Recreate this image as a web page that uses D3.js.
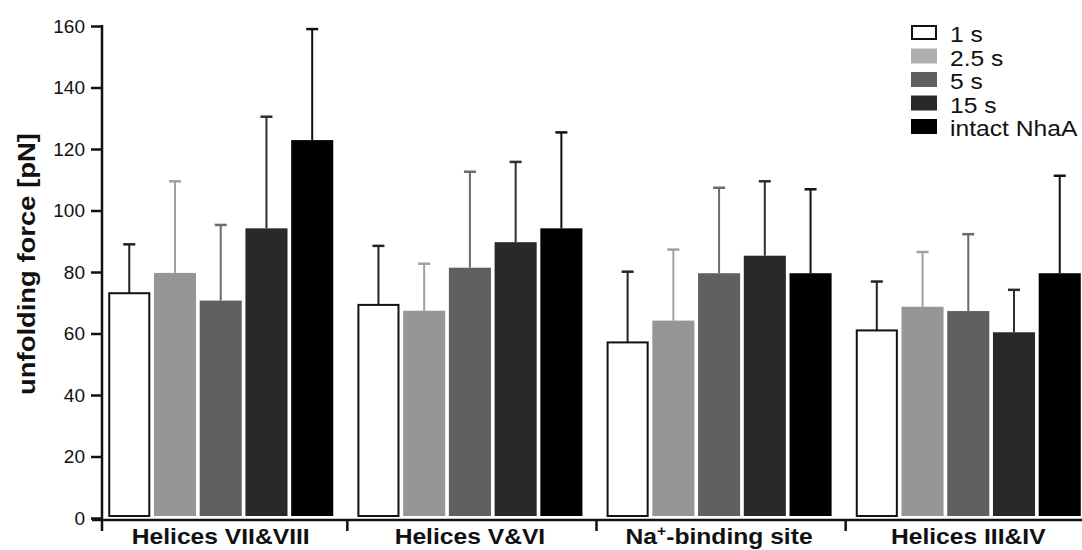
<!DOCTYPE html>
<html>
<head>
<meta charset="utf-8">
<script src="https://cdn.jsdelivr.net/npm/d3@7"></script>
<style>
  body { margin: 0; background: #fff; }
  svg { display: block; font-family: "Liberation Sans", Arial, Helvetica, sans-serif; }
</style>
</head>
<body>
<svg id="chart"></svg>
<script>
// regions along the x axis
const groups = ["Helices VII&VIII", "Helices V&VI", "Na+-binding site", "Helices III&IV"];
// pulling times
const series = ["1 s", "2.5 s", "5 s", "15 s", "intact NhaA"];
const colors = ["#ffffff", "#969696", "#606060", "#292929", "#000000"];
const errColors = ["#222222", "#a0a0a0", "#6a6a6a", "#2e2e2e", "#111111"];

// mean unfolding force per series, one entry per group
const mean1s = [73.1, 69.3, 57.1, 61.0];
const mean25s = [79.7, 67.4, 64.2, 68.7];
const mean5s = [70.7, 81.4, 79.6, 67.3];
const mean15s = [94.2, 89.7, 85.3, 60.4];
const meanIntact = [122.9, 94.2, 79.6, 79.6];

// upper end of the error bars
const err1s = [89.0, 88.5, 80.1, 76.9];
const err25s = [109.5, 82.7, 87.3, 86.5];
const err5s = [95.3, 112.6, 107.4, 92.3];
const err15s = [130.5, 115.8, 109.5, 74.2];
const errIntact = [159.0, 125.4, 106.9, 111.3];

const yTicks = [0, 20, 40, 60, 80, 100, 120, 140, 160];

const means = [mean1s, mean25s, mean5s, mean15s, meanIntact];
const errs = [err1s, err25s, err5s, err15s, errIntact];

const width = 1082;
const height = 550;

const svg = d3.select("#chart").attr("width", width).attr("height", height);

const y = d3.scaleLinear().domain([0, 160]).range([518, 26]);

const x0 = d3.scaleBand()
  .domain(groups)
  .range([102, 1087])
  .paddingInner(0.097)
  .paddingOuter(0.025);

const x1 = d3.scaleBand()
  .domain(series)
  .range([0, x0.bandwidth()])
  .paddingInner(0.08)
  .paddingOuter(0);

// flatten into rows for drawing
const rows = [];
groups.forEach((g, gi) => {
  series.forEach((s, si) => {
    rows.push({ g, s, si, value: means[si][gi], upper: errs[si][gi] });
  });
});

const cx = d => x0(d.g) + x1(d.s) + x1.bandwidth() / 2;

// error bars (behind bars)
const capW = 12;
const eb = svg.append("g").selectAll("g")
  .data(rows)
  .enter()
  .append("g")
  .attr("stroke", d => errColors[d.si]);

eb.append("line")
  .attr("x1", cx)
  .attr("x2", cx)
  .attr("y1", d => y(d.value))
  .attr("y2", d => y(d.upper))
  .attr("stroke-width", 2);

eb.append("line")
  .attr("x1", d => cx(d) - capW / 2)
  .attr("x2", d => cx(d) + capW / 2)
  .attr("y1", d => y(d.upper))
  .attr("y2", d => y(d.upper))
  .attr("stroke-width", 2.5);

// bars
svg.append("g").selectAll("rect")
  .data(rows)
  .enter()
  .append("rect")
  .attr("x", d => x0(d.g) + x1(d.s) + (d.si === 0 ? 1 : 0))
  .attr("y", d => y(d.value))
  .attr("width", d => x1.bandwidth() - (d.si === 0 ? 2 : 0))
  .attr("height", d => y(0) - 2 - y(d.value))
  .attr("fill", d => colors[d.si])
  .attr("stroke", d => d.si === 0 ? "#111" : "none")
  .attr("stroke-width", 2);

// y axis
const yAxis = svg.append("g")
  .attr("transform", "translate(102,0)")
  .call(d3.axisLeft(y).tickValues(yTicks).tickSize(11).tickSizeOuter(0).tickPadding(6));
yAxis.select(".domain").remove();
yAxis.selectAll(".tick line").attr("stroke", "#111").attr("stroke-width", 2.5);
yAxis.selectAll(".tick text")
  .attr("font-size", 19)
  .attr("fill", "#111")
  .attr("font-family", "Liberation Sans, Arial, sans-serif");
yAxis.append("line")
  .attr("x1", 0).attr("x2", 0)
  .attr("y1", y(160) - 1)
  .attr("y2", y(0) + 13)
  .attr("stroke", "#111")
  .attr("stroke-width", 2.5);

// x axis line and separators
const xAxisY = y(0) + 2;
svg.append("line")
  .attr("x1", 92).attr("x2", width)
  .attr("y1", xAxisY).attr("y2", xAxisY)
  .attr("stroke", "#111")
  .attr("stroke-width", 2.5);

const gap = x0.step() * x0.paddingInner();
svg.append("g").selectAll("line")
  .data(groups.slice(1))
  .enter()
  .append("line")
  .attr("x1", d => x0(d) - gap / 2 + 2)
  .attr("x2", d => x0(d) - gap / 2 + 2)
  .attr("y1", xAxisY)
  .attr("y2", xAxisY + 11)
  .attr("stroke", "#111")
  .attr("stroke-width", 2.5);

// group labels
const labels = svg.append("g").selectAll("text")
  .data(groups)
  .enter()
  .append("text")
  .attr("transform", d => `translate(${x0(d) + x0.bandwidth() / 2},${xAxisY + 24}) scale(1.12,1)`)
  .attr("text-anchor", "middle")
  .attr("font-size", 22)
  .attr("font-weight", "bold")
  .attr("fill", "#111");

labels.each(function (d) {
  const t = d3.select(this);
  if (d.startsWith("Na+")) {
    t.append("tspan").text("Na");
    t.append("tspan").attr("dy", -8).attr("font-size", 14).text("+");
    t.append("tspan").attr("dy", 8).text("-binding site");
  } else {
    t.text(d);
  }
});

// y label
svg.append("text")
  .attr("transform", "translate(35,264) rotate(-90)")
  .attr("text-anchor", "middle")
  .attr("font-size", 23)
  .attr("font-weight", "bold")
  .attr("fill", "#111")
  .attr("textLength", 262)
  .attr("lengthAdjust", "spacingAndGlyphs")
  .text("unfolding force [pN]");

// legend
const legend = svg.append("g").attr("transform", "translate(911,25)");
const li = legend.selectAll("g")
  .data(series)
  .enter()
  .append("g")
  .attr("transform", (d, i) => `translate(0,${i * 23.5})`);

li.append("rect")
  .attr("x", (d, i) => i === 0 ? 1 : 0)
  .attr("y", (d, i) => i === 0 ? 1 : 0)
  .attr("width", (d, i) => i === 0 ? 24 : 26)
  .attr("height", (d, i) => i === 0 ? 13 : 15)
  .attr("fill", (d, i) => i === 1 ? "#b0b0b0" : colors[i])
  .attr("stroke", (d, i) => i === 0 ? "#111" : "none")
  .attr("stroke-width", 2);

li.append("text")
  .attr("transform", "translate(39,17) scale(1.12,1)")
  .attr("font-size", 22)
  .attr("fill", "#111")
  .text(d => d);
</script>
</body>
</html>
